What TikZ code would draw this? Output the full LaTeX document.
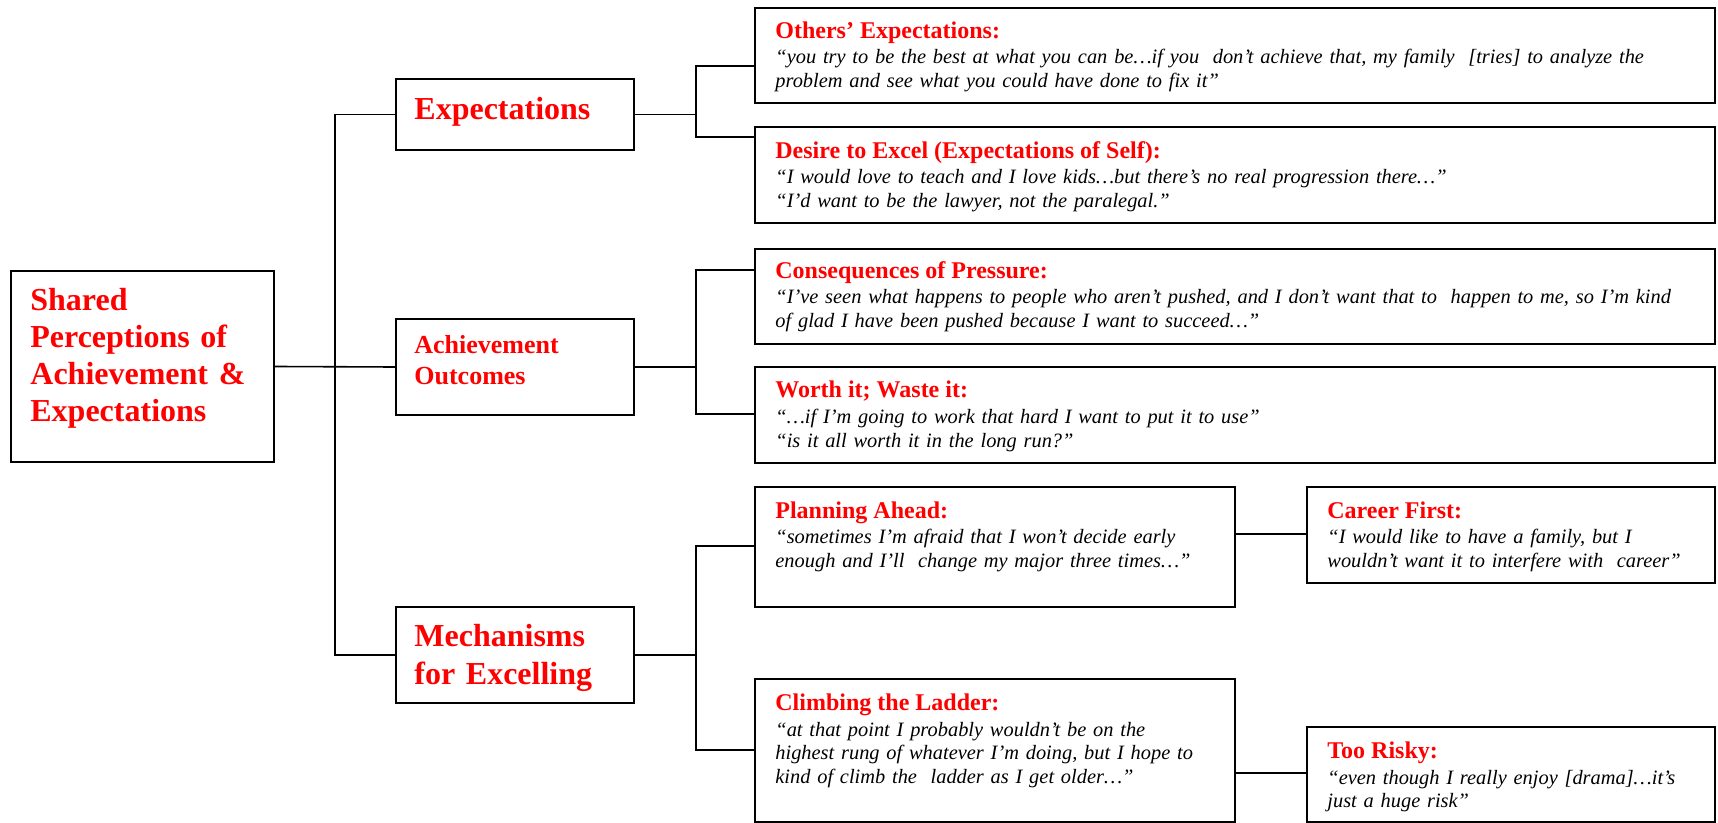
\documentclass[tikz,border=0pt]{standalone}
\usepackage{fontspec}
\setmainfont{Liberation Serif}
\usetikzlibrary{fit,calc}
\definecolor{tred}{RGB}{255,0,0}
\begin{document}
\begin{tikzpicture}[x=0.5pt,y=-0.5pt,
  box/.style={draw, line width=1pt, inner sep=0pt},
  conn/.style={line width=0.8pt},
  ttl/.style={anchor=base west, inner sep=0pt, text=tred, font=\fontsize{12}{14}\selectfont\bfseries},
  qt/.style={anchor=base west, inner sep=0pt, text width=480pt, align=left, font=\fontsize{10.2}{11.75}\selectfont\itshape},
  head/.style={anchor=base west, inner sep=0pt, text=tred, text width=200pt, align=left},
]
\useasboundingbox[fill=white] (0,0) rectangle (1718,823);

% level 0 and 1 boxes
\node[box, fit={(11,271) (274,462)}] (root) {};
\node[box, fit={(396,79) (634,150)}] (exp) {};
\node[box, fit={(396,319) (634,415)}] (ach) {};
\node[box, fit={(396,607) (634,703)}] (mech) {};

% level 2 boxes
\node[box, fit={(755,8) (1715,103)}] (oe) {};
\node[box, fit={(755,127) (1715,223)}] (de) {};
\node[box, fit={(755,249) (1715,344)}] (cp) {};
\node[box, fit={(755,367) (1715,463)}] (wi) {};
\node[box, fit={(755,487) (1235,607)}] (pa) {};
\node[box, fit={(1307,487) (1715,583)}] (cf) {};
\node[box, fit={(755,679) (1235,822)}] (cl) {};
\node[box, fit={(1307,727) (1715,822)}] (tr) {};

% headings
\node[head, font=\fontsize{16}{18.35}\selectfont\bfseries] (rootT) at ($(root.north west)+(20,41)$)
  {Shared\\ Perceptions of\\ Achievement \&\\ Expectations};
\node[head, font=\fontsize{16}{19}\selectfont\bfseries] (expT) at ($(exp.north west)+(19,42)$) {Expectations};
\node[head, font=\fontsize{13}{15.5}\selectfont\bfseries] (achT) at ($(ach.north west)+(19,36)$) {Achievement\\ Outcomes};
\node[head, font=\fontsize{16}{19}\selectfont\bfseries] (mechT) at ($(mech.north west)+(19,40)$) {Mechanisms\\ for Excelling};

% titles and quotes
\node[ttl] (oeT) at ($(oe.north west)+(21,31.5)$) {Others’ Expectations:};
\node[qt] (oeQ) at ($(oe.north west)+(21,57)$) {“you try to be the best at what you can be…if you\ \ don’t achieve that, my family\ \ [tries] to analyze the\\ problem and see what you could have done to fix it”};

\node[ttl] (deT) at ($(de.north west)+(21,32.5)$) {Desire to Excel (Expectations of Self):};
\node[qt] (deQ) at ($(de.north west)+(21,58)$) {“I would love to teach and I love kids…but there’s no real progression there…”\\ “I’d want to be the lawyer, not the paralegal.”};

\node[ttl] (cpT) at ($(cp.north west)+(21,30.5)$) {Consequences of Pressure:};
\node[qt] (cpQ) at ($(cp.north west)+(21,56)$) {“I’ve seen what happens to people who aren’t pushed, and I don’t want that to\ \ happen to me, so I’m kind\\ of glad I have been pushed because I want to succeed…”};

\node[ttl] (wiT) at ($(wi.north west)+(21,32)$) {Worth it; Waste it:};
\node[qt] (wiQ) at ($(wi.north west)+(21,57.5)$) {“…if I’m going to work that hard I want to put it to use”\\ “is it all worth it in the long run?”};

\node[ttl] (paT) at ($(pa.north west)+(21,32)$) {Planning Ahead:};
\node[qt] (paQ) at ($(pa.north west)+(21,57.5)$) {“sometimes I’m afraid that I won’t decide early\\ enough and I’ll\ \ change my major three times…”};

\node[ttl] (cfT) at ($(cf.north west)+(21,32)$) {Career First:};
\node[qt] (cfQ) at ($(cf.north west)+(21,57.5)$) {“I would like to have a family, but I\\ wouldn’t want it to interfere with\ \ career”};

\node[ttl] (clT) at ($(cl.north west)+(21,32.5)$) {Climbing the Ladder:};
\node[qt] (clQ) at ($(cl.north west)+(21,58)$) {“at that point I probably wouldn’t be on the\\ highest rung of whatever I’m doing, but I hope to\\ kind of climb the\ \ ladder as I get older…”};

\node[ttl] (trT) at ($(tr.north west)+(21,32)$) {Too Risky:};
\node[qt] (trQ) at ($(tr.north west)+(21,58)$) {“even though I really enjoy [drama]…it’s\\ just a huge risk”};

% connectors level 0 -> 1
\draw[conn] (root.east) -- (ach.west);
\draw[conn] (exp.west) -| ($(root.east)!.5!(ach.west)$) coordinate (trunk) |- (mech.west);

% connectors level 1 -> 2
\draw[conn] (exp.east) -- ++(61,0) coordinate (b1);
\draw[conn] ($(oe.north west)+(0,59)$) -| (b1) |- ($(de.north west)+(0,11)$);
\draw[conn] (ach.east) -- ++(61,0) coordinate (b2);
\draw[conn] ($(cp.north west)+(0,22)$) -| (b2) |- ($(wi.north west)+(0,48)$);
\draw[conn] (mech.east) -- ++(61,0) coordinate (b3);
\draw[conn] ($(pa.north west)+(0,60)$) -| (b3) |- ($(cl.north west)+(0,72)$);

% connectors level 2 -> 3
\draw[conn] ($(pa.north east)+(0,48)$) -- ($(cf.north west)+(0,48)$);
\draw[conn] ($(cl.north east)+(0,95)$) -- ($(tr.north west)+(0,47)$);
\end{tikzpicture}
\end{document}
